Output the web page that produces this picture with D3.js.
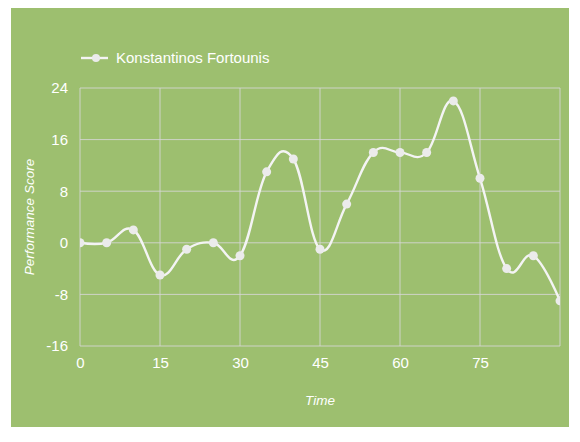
<!DOCTYPE html>
<html>
<head>
<meta charset="utf-8">
<script src="https://cdn.jsdelivr.net/npm/d3@7"></script>
<style>
  html, body { margin: 0; padding: 0; background: #fff; }
  svg { display: block; }
  text { font-family: "Liberation Sans", Arial, sans-serif; fill: #fff; }
</style>
</head>
<body>
<div id="chart"></div>
<script>
'use strict';

// data
var seriesName = 'Konstantinos Fortounis';
var times  = [0, 5, 10, 15, 20, 25, 30, 35, 40, 45, 50, 55, 60, 65, 70, 75, 80, 85, 90];
var scores = [0, 0, 2, -5, -1, 0, -2, 11, 13, -1, 6, 14, 14, 14, 22, 10, -4, -2, -9];
var xTicks = [0, 15, 30, 45, 60, 75];
var yTicks = [-16, -8, 0, 8, 16, 24];

(function() {
    const width = 580, height = 442;
    const panel = { x: 11, y: 8, w: 558, h: 419 };
    const plot = { left: 80, right: 560, top: 88, bottom: 346 };
    const green = '#9dbf6f';
    const gridColor = 'rgba(215,215,215,0.85)';

    var data = times.map(function(t, i) { return { t: t, v: scores[i] } });

    var x = d3.scaleLinear().domain([0, 90]).range([plot.left, plot.right]);
    var y = d3.scaleLinear().domain([-16, 24]).range([plot.bottom, plot.top]);

    var svg = d3.select('#chart').append('svg')
        .attr('width', width)
        .attr('height', height);

    svg.append('rect')
        .attr('x', panel.x).attr('y', panel.y)
        .attr('width', panel.w).attr('height', panel.h)
        .attr('fill', green);

    // grid
    var grid = svg.append('g');
    grid.selectAll('.vg').data(xTicks.concat([90])).enter().append('line')
        .attr('x1', function(d) { return x(d) }).attr('x2', function(d) { return x(d) })
        .attr('y1', plot.top).attr('y2', plot.bottom)
        .attr('stroke', gridColor).attr('stroke-width', 1);
    grid.selectAll('.hg').data(yTicks).enter().append('line')
        .attr('x1', plot.left).attr('x2', plot.right)
        .attr('y1', function(d) { return y(d) }).attr('y2', function(d) { return y(d) })
        .attr('stroke', gridColor).attr('stroke-width', 1);

    // axes via d3 axis, restyled (plain hyphen for negatives, like the original)
    var fmt = function(d) { return String(d) };
    var xAxis = svg.append('g')
        .attr('transform', 'translate(0,' + plot.bottom + ')')
        .call(d3.axisBottom(x).tickValues(xTicks).tickFormat(fmt).tickSize(0).tickPadding(11));
    var yAxis = svg.append('g')
        .attr('transform', 'translate(' + plot.left + ',0)')
        .call(d3.axisLeft(y).tickValues(yTicks).tickFormat(fmt).tickSize(0).tickPadding(12));
    [xAxis, yAxis].forEach(function(a) {
        a.select('.domain').remove();
        a.selectAll('text').style('font-size', '15px').attr('fill', '#fff')
            .style('font-family', '"Liberation Sans", Arial, sans-serif');
    });

    // axis titles
    svg.append('text')
        .attr('transform', 'translate(34,' + ((plot.top + plot.bottom) / 2) + ') rotate(-90)')
        .attr('text-anchor', 'middle')
        .style('font-size', '13.5px').style('font-style', 'italic')
        .text('Performance Score');
    svg.append('text')
        .attr('x', (plot.left + plot.right) / 2).attr('y', 405)
        .attr('text-anchor', 'middle')
        .style('font-size', '13.5px').style('font-style', 'italic')
        .text('Time');

    // clip to plot area
    svg.append('clipPath').attr('id', 'clip').append('rect')
        .attr('x', plot.left).attr('y', plot.top - 10)
        .attr('width', plot.right - plot.left).attr('height', plot.bottom - plot.top + 20);

    var line = d3.line()
        .x(function(d) { return x(d.t) })
        .y(function(d) { return y(d.v) })
        .curve(d3.curveCardinal.tension(-0.2));

    var series = svg.append('g').attr('clip-path', 'url(#clip)');
    series.append('path')
        .datum(data)
        .attr('d', line)
        .attr('fill', 'none')
        .attr('stroke', '#f4f4f4')
        .attr('stroke-width', 2.4);
    series.selectAll('circle').data(data).enter().append('circle')
        .attr('cx', function(d) { return x(d.t) })
        .attr('cy', function(d) { return y(d.v) })
        .attr('r', 4.5)
        .attr('fill', '#ebebeb');

    // legend
    var lg = svg.append('g').attr('transform', 'translate(81,58)');
    lg.append('line').attr('x1', 0).attr('x2', 27).attr('y1', 0).attr('y2', 0)
        .attr('stroke', '#f4f4f4').attr('stroke-width', 2.4);
    lg.append('circle').attr('cx', 15).attr('cy', 0).attr('r', 4).attr('fill', '#ebebeb');
    lg.append('text').attr('x', 35).attr('y', 5)
        .style('font-size', '15px')
        .text(seriesName);
})()
</script>
</body>
</html>
